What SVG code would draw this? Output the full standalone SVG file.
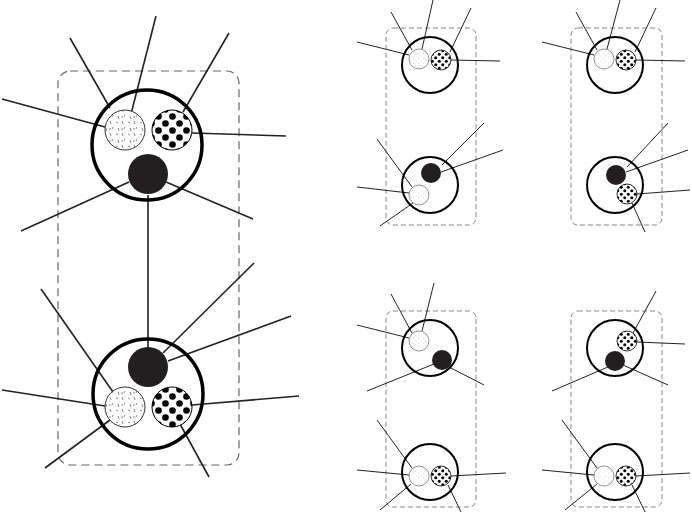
<svg xmlns="http://www.w3.org/2000/svg" width="692" height="515" viewBox="0 0 692 515">
<style>
.box{fill:none;stroke:#666;stroke-width:1.2;stroke-dasharray:8 5}
.boxs{fill:none;stroke:#888;stroke-width:1;stroke-dasharray:5 3}
.ob{fill:none;stroke:#000;stroke-width:3.5}
.os{fill:none;stroke:#000;stroke-width:2}
.c line{stroke:#222;stroke-width:1.6}
.cs line{stroke:#222;stroke-width:1}
.sp{fill:url(#spk);stroke:#333;stroke-width:1}
.sps{fill:url(#spks);stroke:#777;stroke-width:0.8}
.dt{fill:url(#dot);stroke:#000;stroke-width:1}
.dts{fill:url(#dots);stroke:#000;stroke-width:0.8}
.bk{fill:#231f20}
</style>
<defs>
<pattern id="spk" width="12" height="12" patternUnits="userSpaceOnUse">
<rect width="12" height="12" fill="#fff"/>
<path d="M2 1l1 3M8 2l2 1M5 7l-1 2M10 8l1 3M1 9l2 0" stroke="#555" stroke-width="0.7"/>
</pattern>
<pattern id="spks" width="5" height="5" patternUnits="userSpaceOnUse">
<rect width="5" height="5" fill="#fff"/>
<circle cx="1" cy="1" r="0.4" fill="#999"/><circle cx="3.5" cy="3" r="0.4" fill="#aaa"/>
</pattern>
<pattern id="dot" width="14" height="14" patternUnits="userSpaceOnUse" x="1" y="1">
<rect width="14" height="14" fill="#fff"/>
<circle cx="3.5" cy="3.5" r="3.3" fill="#000"/><circle cx="10.5" cy="10.5" r="3.3" fill="#000"/>
</pattern>
<pattern id="dots" width="7" height="7" patternUnits="userSpaceOnUse">
<rect width="7" height="7" fill="#fff"/>
<circle cx="1.75" cy="1.75" r="1.5" fill="#000"/><circle cx="5.25" cy="5.25" r="1.5" fill="#000"/>
</pattern>
</defs>
<rect class="box" x="58" y="71" width="181" height="394" rx="12"/>
<rect class="boxs" x="386" y="28" width="90" height="197" rx="7"/>
<rect class="boxs" x="571" y="28" width="91" height="197" rx="7"/>
<rect class="boxs" x="386" y="311" width="90" height="196" rx="7"/>
<rect class="boxs" x="571" y="311" width="91" height="196" rx="7"/>
<g id="connectors">
<g class="c">
<line x1="70" y1="38" x2="110" y2="108"/><line x1="156" y1="16" x2="131" y2="114"/>
<line x1="229" y1="33" x2="183" y2="112"/><line x1="2" y1="99" x2="105" y2="127"/>
<line x1="286" y1="136" x2="192" y2="133"/><line x1="21" y1="231" x2="129" y2="182"/>
<line x1="253" y1="219" x2="166" y2="182"/><line x1="148" y1="195" x2="148" y2="350"/>
<line x1="41" y1="289" x2="113" y2="392"/><line x1="254" y1="263" x2="163" y2="353"/>
<line x1="291" y1="316" x2="168" y2="361"/><line x1="2" y1="390" x2="105" y2="406"/>
<line x1="299" y1="396" x2="192" y2="405"/><line x1="45" y1="468" x2="110" y2="420"/>
<line x1="209" y1="477" x2="180" y2="424"/>
</g>
<g class="cs">
<line x1="391" y1="12" x2="412" y2="50"/><line x1="433" y1="0" x2="422" y2="49"/>
<line x1="471" y1="8" x2="450" y2="52"/><line x1="357" y1="42" x2="409" y2="55"/>
<line x1="500" y1="61" x2="451" y2="60"/>
<line x1="484" y1="123" x2="442" y2="165"/><line x1="503" y1="150" x2="441" y2="172"/>
<line x1="377" y1="139" x2="412" y2="187"/><line x1="357" y1="187" x2="409" y2="193"/>
<line x1="380" y1="226" x2="413" y2="203"/>
<line x1="576" y1="12" x2="597" y2="50"/><line x1="620" y1="0" x2="607" y2="49"/>
<line x1="656" y1="8" x2="635" y2="52"/><line x1="542" y1="42" x2="594" y2="55"/>
<line x1="685" y1="61" x2="636" y2="60"/>
<line x1="668" y1="123" x2="627" y2="167"/><line x1="688" y1="150" x2="626" y2="172"/>
<line x1="690" y1="190" x2="637" y2="194"/><line x1="645" y1="232" x2="632" y2="203"/>
<line x1="391" y1="294" x2="412" y2="333"/><line x1="434" y1="283" x2="422" y2="331"/>
<line x1="357" y1="325" x2="409" y2="338"/><line x1="367" y1="391" x2="434" y2="364"/>
<line x1="484" y1="385" x2="449" y2="367"/>
<line x1="377" y1="420" x2="412" y2="468"/><line x1="357" y1="470" x2="409" y2="475"/>
<line x1="506" y1="473" x2="451" y2="476"/><line x1="380" y1="510" x2="411" y2="484"/>
<line x1="461" y1="512" x2="448" y2="485"/>
<line x1="656" y1="291" x2="633" y2="333"/><line x1="685" y1="344" x2="637" y2="342"/>
<line x1="552" y1="391" x2="608" y2="367"/><line x1="668" y1="385" x2="623" y2="365"/>
<line x1="562" y1="420" x2="597" y2="468"/><line x1="542" y1="470" x2="594" y2="475"/>
<line x1="690" y1="473" x2="636" y2="476"/><line x1="565" y1="510" x2="597" y2="484"/>
<line x1="645" y1="512" x2="632" y2="485"/>
</g>
</g>
<g id="big-top"><circle class="ob" cx="147" cy="145" r="55"/><circle class="sp" cx="125" cy="130" r="20"/><circle class="dt" cx="172" cy="130" r="20"/><circle class="bk" cx="148" cy="174" r="20"/></g>
<g id="big-bottom"><circle class="ob" cx="148" cy="394" r="55"/><circle class="bk" cx="148" cy="367" r="20"/><circle class="sp" cx="125" cy="407" r="20"/><circle class="dt" cx="172" cy="407" r="20"/></g>
<g id="a1"><circle class="os" cx="430" cy="65" r="28"/><circle class="sps" cx="419" cy="59" r="10"/><circle class="dts" cx="441" cy="60" r="10"/></g>
<g id="a2"><circle class="os" cx="430" cy="185" r="28"/><circle class="bk" cx="431" cy="173" r="10"/><circle class="sps" cx="419" cy="195" r="10"/></g>
<g id="b1"><circle class="os" cx="615" cy="65" r="28"/><circle class="sps" cx="604" cy="59" r="10"/><circle class="dts" cx="626" cy="60" r="10"/></g>
<g id="b2"><circle class="os" cx="615" cy="185" r="28"/><circle class="bk" cx="616" cy="175" r="10"/><circle class="dts" cx="627" cy="194" r="10"/></g>
<g id="c1"><circle class="os" cx="430" cy="348" r="28"/><circle class="sps" cx="419" cy="341" r="10"/><circle class="bk" cx="442" cy="360" r="10"/></g>
<g id="c2"><circle class="os" cx="430" cy="472" r="28"/><circle class="sps" cx="419" cy="476" r="10"/><circle class="dts" cx="441" cy="476" r="10"/></g>
<g id="d1"><circle class="os" cx="615" cy="348" r="28"/><circle class="dts" cx="627" cy="341" r="10"/><circle class="bk" cx="615" cy="361" r="10"/></g>
<g id="d2"><circle class="os" cx="615" cy="472" r="28"/><circle class="sps" cx="604" cy="476" r="10"/><circle class="dts" cx="626" cy="476" r="10"/></g>
</svg>
